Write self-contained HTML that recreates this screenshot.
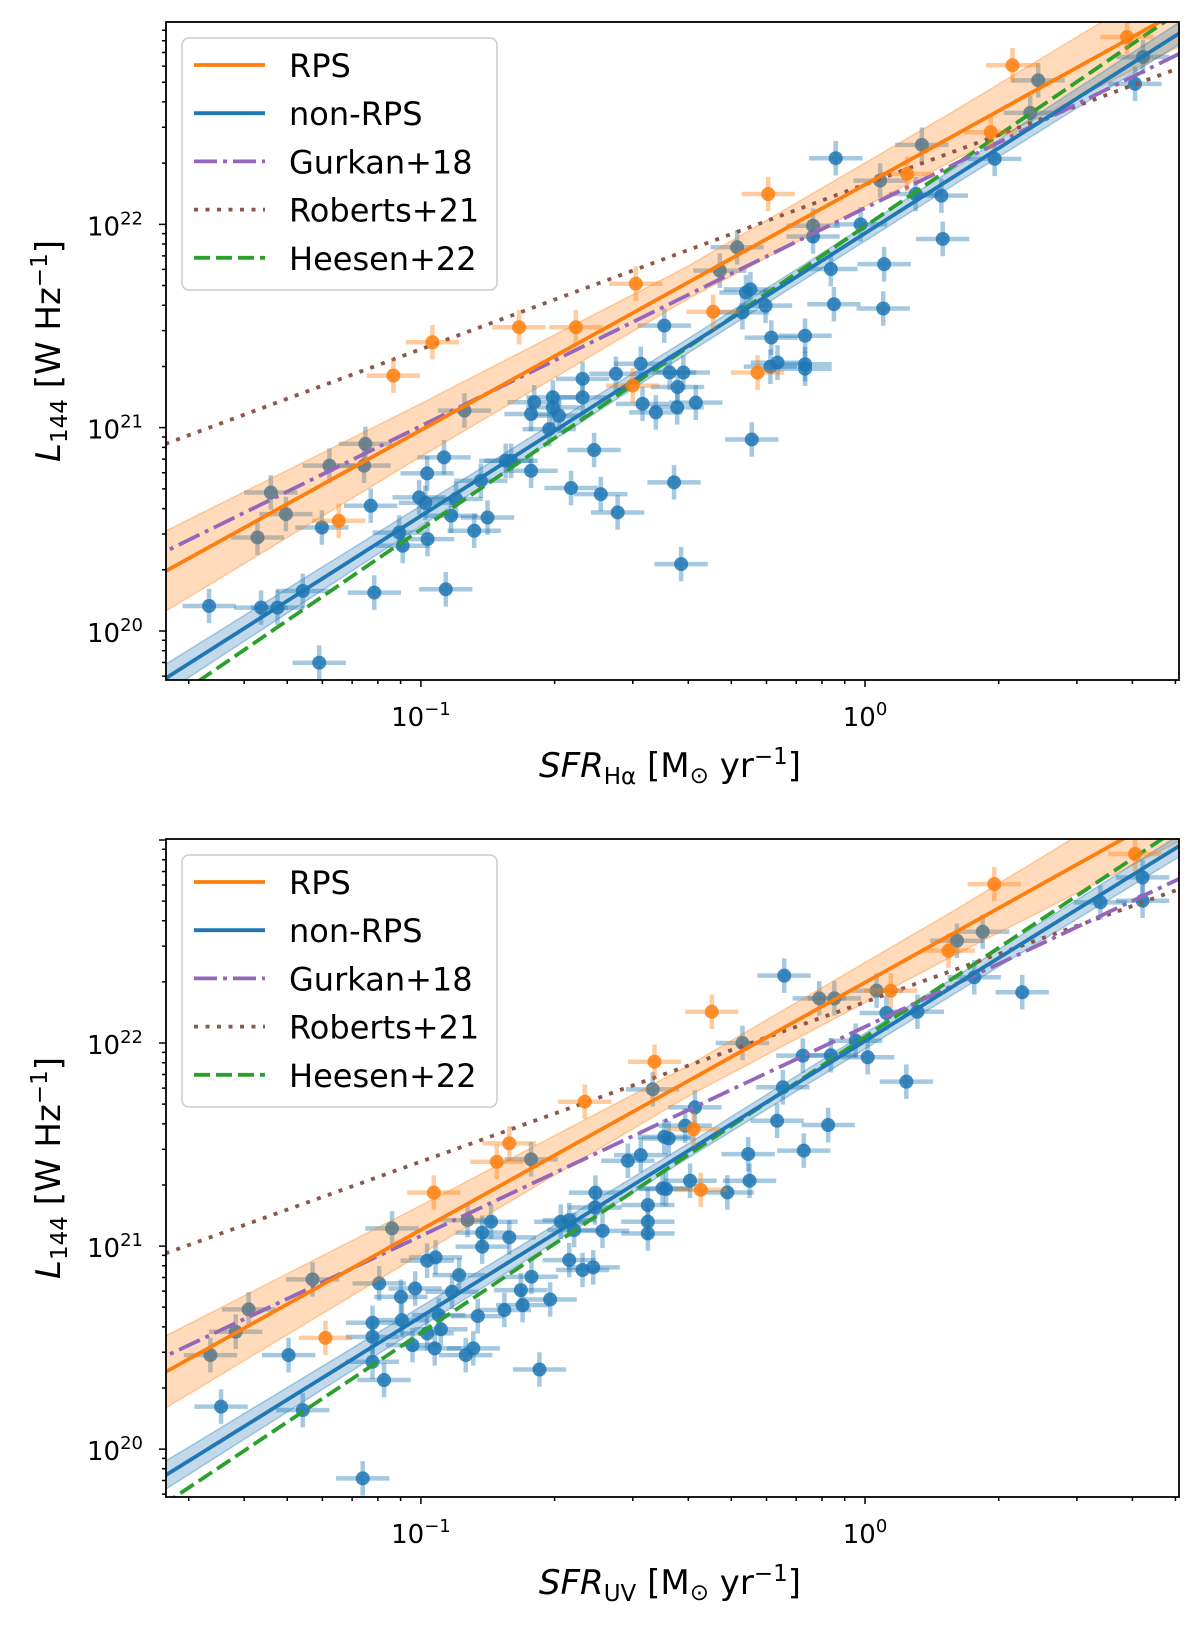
<!DOCTYPE html>
<html><head><meta charset="utf-8"><style>
html,body{margin:0;padding:0;background:#fff;}
svg{display:block;font-family:"DejaVu Sans","Liberation Sans",sans-serif;}
</style></head>
<body>
<svg id="fig" width="1200" height="1631" viewBox="0 0 1200 1631" xmlns="http://www.w3.org/2000/svg"></svg>
<script>
// ---------- DATA (log10 SFR [Msun/yr], log10 L144 [W/Hz]) ----------
const topRpsLogSFR = [-0.516,-0.779,-0.651,-0.974,-1.062,-0.523,-1.185,0.59,0.332,0.283,0.095,-0.218,-0.342,-0.242];
const topRpsLogL   = [21.708,21.494,21.494,21.42,21.256,21.207,20.542,22.921,22.782,22.453,22.248,22.149,21.57,21.271];
const topBlueLogSFR = [-0.902,-1.125,-1.206,-1.128,-1.338,-1.304,-1.368,-1.223,-1.113,-0.986,-0.948,-1.004,-0.99,-1.049,-1.041,-0.985,-0.921,-0.932,-0.88,-0.85,-0.865,-0.809,-0.797,-0.752,-0.752,-0.745,-0.703,-0.703,-0.689,-0.711,-0.636,-0.636,-0.61,-0.662,-0.595,-0.557,-0.561,-0.505,-0.501,-0.471,-0.452,-0.43,-0.414,-0.422,-0.423,-1.266,-1.323,-1.36,-1.477,-1.105,-0.944,-1.229,
 0.626,0.608,0.39,0.372,0.292,0.128,0.034,0.114,0.172,0.175,-0.066,-0.117,-0.117,-0.01,0.043,-0.077,0.041,-0.07,-0.288,-0.327,-0.268,-0.258,-0.224,-0.276,-0.211,-0.135,-0.197,-0.213,-0.135,-0.135,-0.255,-0.381,-0.409,-0.44];
const topBlueLogL = [21.084,20.92,20.813,20.813,20.681,20.575,20.46,20.509,20.616,20.775,20.854,20.657,20.63,20.484,20.419,20.452,20.649,20.567,20.493,20.558,20.739,20.837,20.837,20.788,21.067,21.125,21.149,21.10,21.059,20.993,21.24,21.149,20.89,20.703,20.673,20.583,21.265,21.314,21.117,21.075,21.502,20.731,20.329,21.2,21.1,20.197,20.115,20.115,20.123,20.189,20.205,19.844,
 22.823,22.691,22.708,22.548,22.322,22.391,22.215,22.149,22.141,21.928,22.325,21.993,21.94,22.0,21.804,21.78,21.586,21.607,21.887,21.772,21.665,21.68,21.6,21.567,21.443,21.452,21.32,21.3,21.312,21.29,20.942,21.123,21.271,21.271];

const botRpsLogSFR = [-0.474,-0.631,-0.801,-0.829,-0.971,-1.215,0.608,0.291,0.188,0.058,-0.345,-0.386,-0.37];
const botRpsLogL   = [21.908,21.711,21.506,21.415,21.263,20.548,22.931,22.783,22.455,22.258,22.154,21.576,21.277];
const botBlueLogSFR = [-0.478,-0.752,-1.065,-1.244,-1.388,-1.417,-1.474,-1.298,-1.45,-1.266,-1.131,-1.083,-1.109,-1.109,-1.109,-1.094,-1.045,-1.043,-1.013,-1.019,-0.986,-0.967,-0.986,-0.969,-0.955,-0.96,-0.93,-0.914,-0.895,-0.872,-0.899,-0.882,-0.862,-0.862,-0.842,-0.801,-0.812,-0.775,-0.771,-0.751,-0.709,-0.733,-0.685,-0.666,-0.655,-0.666,-0.636,-0.612,-0.607,-0.591,-0.534,-0.505,-0.489,-0.489,-0.489,-0.456,-0.452,
 0.625,0.625,0.53,0.265,0.207,0.246,0.354,0.118,0.048,0.026,-0.103,-0.069,-0.182,-0.276,-0.14,-0.077,-0.021,0.006,0.093,-0.185,-0.198,-0.083,-0.263,-0.138,-0.26,-0.31,-0.394,-0.383,-0.442,-0.405,-0.448,-0.608];
const botBlueLogL = [21.772,21.427,21.087,20.836,20.688,20.578,20.463,20.463,20.209,20.192,19.856,20.34,20.43,20.553,20.622,20.816,20.75,20.635,20.791,20.512,20.928,20.944,20.57,20.496,20.59,20.66,20.775,20.857,21.128,20.655,20.463,20.496,21.066,20.997,21.12,21.043,20.685,20.783,20.709,20.849,20.737,20.392,21.12,21.128,21.079,20.931,20.882,20.895,21.263,21.075,21.42,21.448,21.202,21.12,21.062,21.284,21.538,
 22.816,22.701,22.693,22.548,22.504,22.324,22.25,22.154,22.148,22.258,22.22,22.22,22.332,22.0,21.938,21.94,22.011,21.93,21.81,21.782,21.617,21.596,21.453,21.47,21.322,21.264,21.322,21.683,21.53,21.593,21.281,21.19];

const fitNames = ['RPS','non-RPS','Gurkan+18','Roberts+21','Heesen+22'];
const topFitIntercept = [22.195,21.956,22.08,22.196,21.99];
const topFitSlope     = [1.207,1.39,1.072,0.81,1.49];
const botFitIntercept = [22.298,22.01,22.08,22.202,22.03];
const botFitSlope     = [1.218,1.358,1.03,0.786,1.458];

const bandLogSFR  = [-1.6,-1.0,-0.4,0.2,0.75];
const topRpsBand  = [0.20,0.13,0.08,0.12,0.18];
const topBlueBand = [0.07,0.05,0.035,0.04,0.055];
const botRpsBand  = [0.18,0.12,0.075,0.11,0.17];
const botBlueBand = [0.07,0.05,0.035,0.04,0.055];

const xErr = 0.06, yErr = 0.085;

// ---------- DRAWING ----------
const NS = 'http://www.w3.org/2000/svg';
const svg = document.getElementById('fig');
const C = {rps:'#ff7f0e', blue:'#1f77b4', gurkan:'#9467bd', roberts:'#8c564b', heesen:'#2ca02c'};
const lineColors = [C.rps, C.blue, C.gurkan, C.roberts, C.heesen];
const lineDash = ['', '', '23 6 4 6', '4 7.5', '16 6'];

function mk(parent, tag, attrs) {
  const e = document.createElementNS(NS, tag);
  for (const k in attrs) e.setAttribute(k, attrs[k]);
  parent.appendChild(e);
  return e;
}
function interp(xs, ys, x) {
  if (x <= xs[0]) return ys[0];
  for (let i = 1; i < xs.length; i++) if (x <= xs[i]) { const t = (x - xs[i-1])/(xs[i]-xs[i-1]); return ys[i-1] + t*(ys[i]-ys[i-1]); }
  return ys[ys.length-1];
}

function drawPanel(cfg, blueX, blueY, rpsX, rpsY, icpt, slope, rpsBand, blueBand) {
  const g = mk(svg, 'g', {});
  
  
  const sx = v => cfg.x0 + (v - cfg.xmin) / (cfg.xmax - cfg.xmin) * (cfg.x1 - cfg.x0);
  const sy = v => cfg.y1 - (v - cfg.ymin) / (cfg.ymax - cfg.ymin) * (cfg.y1 - cfg.y0);
  const clipId = cfg.name + '-clip';
  const defs = mk(g, 'defs', {});
  const cp = mk(defs, 'clipPath', {id: clipId});
  mk(cp, 'rect', {x: cfg.x0, y: cfg.y0, width: cfg.x1 - cfg.x0, height: cfg.y1 - cfg.y0});
  const plot = mk(g, 'g', {'clip-path': 'url(#' + clipId + ')'});
  
  

  function points(xs, ys, col, name) {
    const pg = mk(plot, 'g', {});
    
    
    for (let i = 0; i < xs.length; i++) {
      const cx = sx(xs[i]), cy = sy(ys[i]);
      const eb = mk(pg, 'path', {d: `M${sx(xs[i]-xErr)},${cy}H${sx(xs[i]+xErr)}M${cx},${sy(ys[i]-yErr)}V${sy(ys[i]+yErr)}`, stroke: col, 'stroke-width': 4.5, 'stroke-opacity': 0.4, fill: 'none'});
      
      
      const m = mk(pg, 'circle', {cx: cx, cy: cy, r: 7, fill: col, 'fill-opacity': 0.85});
      
      
    }
  }
  function band(k, halfs, col, name) {
    const top = [], bot = [];
    for (let i = 0; i <= 60; i++) {
      const x = cfg.xmin - 0.05 + i * (cfg.xmax - cfg.xmin + 0.1) / 60;
      const yc = icpt[k] + slope[k] * x, h = interp(bandLogSFR, halfs, x);
      top.push(sx(x).toFixed(1) + ',' + sy(yc + h).toFixed(1));
      bot.unshift(sx(x).toFixed(1) + ',' + sy(yc - h).toFixed(1));
    }
    const p = mk(plot, 'polygon', {points: top.concat(bot).join(' '), fill: col, 'fill-opacity': 0.28, stroke: col, 'stroke-opacity': 0.35, 'stroke-width': 1.5});
    
    
  }
  points(blueX, blueY, C.blue, 'non-rps-points');
  band(0, rpsBand, C.rps, 'rps-fit-band');
  band(1, blueBand, C.blue, 'non-rps-fit-band');
  const lineNames = ['rps-fit-line','non-rps-fit-line','gurkan18-line','roberts21-line','heesen22-line'];
  [4,3,2,1,0].forEach(k => {
    const xa = cfg.xmin - 0.05, xb = cfg.xmax + 0.05;
    const l = mk(plot, 'line', {x1: sx(xa), y1: sy(icpt[k] + slope[k]*xa), x2: sx(xb), y2: sy(icpt[k] + slope[k]*xb), stroke: lineColors[k], 'stroke-width': 3.8});
    if (lineDash[k]) l.setAttribute('stroke-dasharray', lineDash[k]);
    
    
  });
  points(rpsX, rpsY, C.rps, 'rps-points');

  const fr = mk(g, 'rect', {x: cfg.x0, y: cfg.y0, width: cfg.x1 - cfg.x0, height: cfg.y1 - cfg.y0, fill: 'none', stroke: '#000', 'stroke-width': 1.8});
  
  

  const tg = mk(g, 'g', {stroke: '#000', 'stroke-width': 1.5});
  
  
  let d = '';
  for (let dec = -2; dec <= 1; dec++) for (let k = 1; k <= 9; k++) {
    const v = dec + Math.log10(k);
    if (v < cfg.xmin || v > cfg.xmax) continue;
    const len = k === 1 ? 7 : 4;
    d += `M${sx(v)},${cfg.y1}v${len}`;
  }
  for (let dec = 19; dec <= 23; dec++) for (let k = 1; k <= 9; k++) {
    const v = dec + Math.log10(k);
    if (v < cfg.ymin || v > cfg.ymax) continue;
    const len = k === 1 ? 7 : 4;
    d += `M${cfg.x0},${sy(v)}h${-len}`;
  }
  mk(tg, 'path', {d: d, fill: 'none'});

  const xt = [-1, 0];
  const xtl = ['−1', '0'];
  xt.forEach((v, i) => {
    const t = mk(g, 'text', {x: sx(v), y: cfg.y1 + 46, 'text-anchor': 'middle', 'font-size': 26, fill: '#000'});
    
    
    t.appendChild(document.createTextNode('10'));
    const s = mk(t, 'tspan', {dy: -11, 'font-size': 18});
    s.textContent = xtl[i];
  });
  const yt = [20, 21, 22];
  yt.forEach(v => {
    if (v < cfg.ymin || v > cfg.ymax) return;
    const t = mk(g, 'text', {x: 143, y: sy(v) + 11, 'text-anchor': 'end', 'font-size': 26, fill: '#000'});
    
    
    t.appendChild(document.createTextNode('10'));
    const s = mk(t, 'tspan', {dy: -11, 'font-size': 18});
    s.textContent = String(v);
  });

  const xl = mk(g, 'text', {x: 670, y: cfg.y1 + 97, 'text-anchor': 'middle', 'font-size': 34, fill: '#000'});
  
  
  let s1 = mk(xl, 'tspan', {'font-style': 'italic'}); s1.textContent = 'SFR';
  let s2 = mk(xl, 'tspan', {dy: 7, 'font-size': 23}); s2.textContent = cfg.sub;
  let s3 = mk(xl, 'tspan', {dy: -7}); s3.textContent = ' [M';
  let s4 = mk(xl, 'tspan', {dy: 6, 'font-size': 23}); s4.textContent = '⊙';
  let s5 = mk(xl, 'tspan', {dy: -6}); s5.textContent = ' yr';
  let s6 = mk(xl, 'tspan', {dy: -13, 'font-size': 23}); s6.textContent = '−1';
  let s7 = mk(xl, 'tspan', {dy: 13}); s7.textContent = ']';

  const yc = (cfg.y0 + cfg.y1) / 2;
  const yl = mk(g, 'text', {x: 0, y: 0, 'text-anchor': 'middle', 'font-size': 34, fill: '#000', transform: `translate(60,${yc}) rotate(-90)`});
  
  
  let y1 = mk(yl, 'tspan', {'font-style': 'italic'}); y1.textContent = 'L';
  let y2 = mk(yl, 'tspan', {dy: 7, 'font-size': 23}); y2.textContent = '144';
  let y3 = mk(yl, 'tspan', {dy: -7}); y3.textContent = ' [W Hz';
  let y4 = mk(yl, 'tspan', {dy: -13, 'font-size': 23}); y4.textContent = '−1';
  let y5 = mk(yl, 'tspan', {dy: 13}); y5.textContent = ']';

  const lg = mk(g, 'g', {});
  
  
  const ly0 = cfg.y0 + 16;
  mk(lg, 'rect', {x: 182, y: ly0, width: 315, height: 252, rx: 7, fill: '#fff', 'fill-opacity': 0.85, stroke: '#ccc', 'stroke-width': 1.5});
  fitNames.forEach((nm, k) => {
    const yy = ly0 + 27 + k * 48.2;
    const e = mk(lg, 'g', {});
    
    
    const ln = mk(e, 'line', {x1: 194, y1: yy, x2: 265, y2: yy, stroke: lineColors[k], 'stroke-width': 3.8});
    if (lineDash[k]) ln.setAttribute('stroke-dasharray', lineDash[k]);
    const tx = mk(e, 'text', {x: 289, y: yy + 12, 'font-size': 32, fill: '#000'});
    tx.textContent = nm;
  });
}

drawPanel({name:'top-panel', x0:166, x1:1179, y0:22, y1:680, xmin:-1.574, xmax:0.707, ymin:19.759, ymax:22.995, sub:'Hα'},
  topBlueLogSFR, topBlueLogL, topRpsLogSFR, topRpsLogL, topFitIntercept, topFitSlope, topRpsBand, topBlueBand);
drawPanel({name:'bottom-panel', x0:166, x1:1179, y0:839, y1:1497, xmin:-1.574, xmax:0.707, ymin:19.764, ymax:23.005, sub:'UV'},
  botBlueLogSFR, botBlueLogL, botRpsLogSFR, botRpsLogL, botFitIntercept, botFitSlope, botRpsBand, botBlueBand);
</script>
</body></html>
